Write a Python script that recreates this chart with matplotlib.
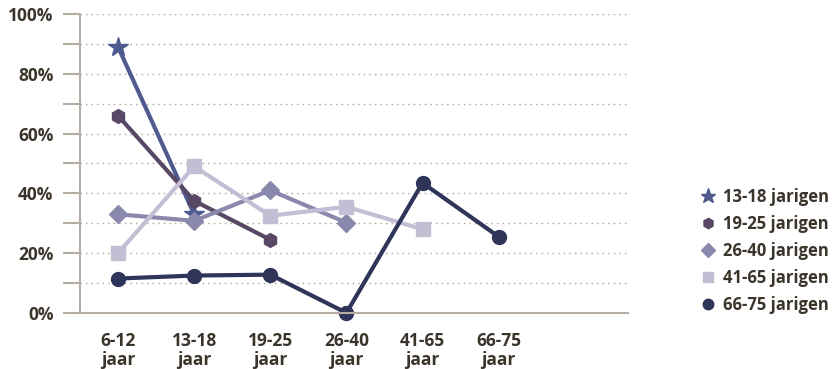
import matplotlib
matplotlib.use("Agg")
from matplotlib import pyplot as plt

plt.rcParams['font.family'] = ['Open Sans', 'DejaVu Sans']

categories = ['6-12\njaar', '13-18\njaar', '19-25\njaar', '26-40\njaar', '41-65\njaar', '66-75\njaar']
labels = ['13-18 jarigen', '19-25 jarigen', '26-40 jarigen', '41-65 jarigen', '66-75 jarigen']
v_13_18 = [89, 33]
v_19_25 = [66, 37.5, 24.5]
v_26_40 = [33, 30.8, 41, 30.2]
v_41_65 = [20, 49, 32.5, 35.5, 28]
v_66_75 = [11.5, 12.5, 12.8, 0, 43.5, 25.5]

series = [v_13_18, v_19_25, v_26_40, v_41_65, v_66_75]
colors = ['#4f5a8e', '#584866', '#8a89ad', '#c2bfd5', '#2f3459']
markers = ['*', 'h', 'D', 's', 'o']
msizes = [15, 10, 9, 10, 10]

txt = '#3b342b'

fig = plt.figure(figsize=(8.33, 3.69), dpi=100)
ax = fig.add_axes([0.096, 0.152, 0.658, 0.81])

for vals, lab, c, m, ms in zip(series, labels, colors, markers, msizes):
    xs = [i + 0.5 for i in range(len(vals))]
    ax.plot(xs, vals, color=c, lw=3, marker=m, markersize=ms, label=lab,
            markeredgecolor=c, clip_on=False)

ax.set_xlim(0, 7.2)
ax.set_ylim(0, 100)
ax.set_yticks(range(0, 101, 10))
ax.set_yticklabels([f'{v}%' if v % 20 == 0 else '' for v in range(0, 101, 10)])
ax.set_xticks([i + 0.5 for i in range(len(categories))])
ax.set_xticklabels(categories, linespacing=1.05)
ax.tick_params(axis='y', length=12, width=1.5, color='#b5ada4', pad=7,
               labelsize=12.5, labelcolor=txt)
ax.tick_params(axis='x', length=0, pad=14, labelsize=12.5, labelcolor=txt)
for t in ax.get_xticklabels() + ax.get_yticklabels():
    t.set_fontweight('bold')

ax.grid(axis='y', linestyle=(0, (1, 3)), color='#aaa294', lw=1)
ax.set_axisbelow(True)
for s in ['top', 'right']:
    ax.spines[s].set_visible(False)
ax.spines['left'].set_color('#b5ada4')
ax.spines['bottom'].set_color('#b5ada4')
ax.spines['left'].set_linewidth(1.5)
ax.spines['bottom'].set_linewidth(1.5)

handles, lbls = ax.get_legend_handles_labels()
leg = fig.legend(handles, lbls, loc='center left', bbox_to_anchor=(0.826, 0.32),
                 frameon=False, handlelength=0.6, handletextpad=0.6,
                 labelspacing=0.55, fontsize=12, markerscale=0.75)
for h in leg.legend_handles:
    h.set_linestyle('none')
for t in leg.get_texts():
    t.set_color(txt)
    t.set_fontweight('bold')

fig.savefig('out.png', dpi=100)
